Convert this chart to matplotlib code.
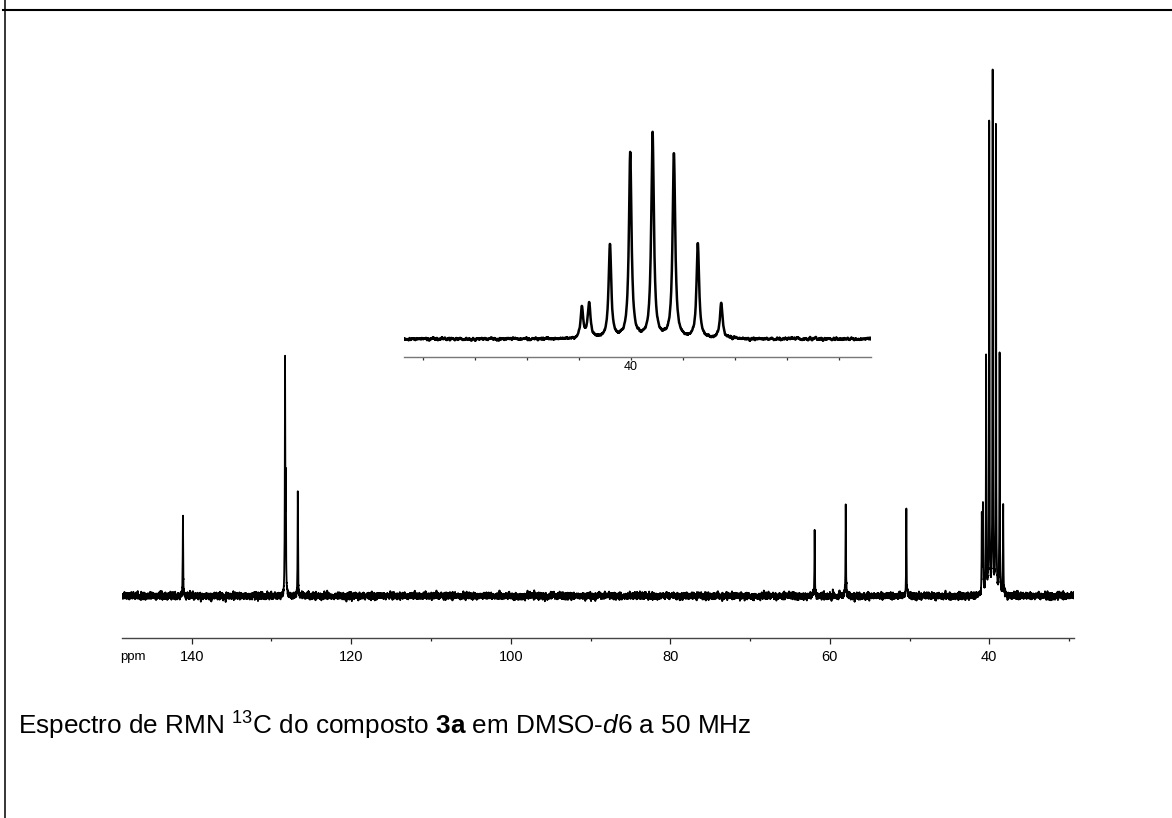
import numpy as np
import matplotlib
matplotlib.use("Agg")
import matplotlib.pyplot as plt
from matplotlib.lines import Line2D
from matplotlib.ticker import FixedLocator, FuncFormatter

# 13C peak list: chemical shift (ppm) and peak height (arbitrary units)
shifts = [141.1, 128.3, 128.2, 126.7, 61.9, 58.0, 50.4, 40.94]
heights = [82, 232, 110, 106, 66, 93, 88, 80]

# DMSO-d6 solvent septet
solvent_shifts = [40.80, 40.40, 40.01, 39.58, 39.17, 38.71, 38.26]
solvent_heights = [89, 240, 469, 521, 469, 240, 89]

major_ticks = [140, 120, 100, 80, 60, 40]
minor_ticks = [130, 110, 90, 70, 50, 30]
inset_ticks = [44, 43, 42, 41, 40, 39, 38, 37, 36]

caption = (r"Espectro de RMN $^{13}$C do composto $\mathbf{3a}$ em DMSO-$\mathit{d}$6 a 50 MHz")

plt.rcParams["mathtext.fontset"] = "custom"
plt.rcParams["mathtext.rm"] = "Liberation Sans"
plt.rcParams["mathtext.it"] = "Liberation Sans:italic"
plt.rcParams["mathtext.bf"] = "Liberation Sans:bold"
plt.rcParams["font.family"] = ["Liberation Sans", "DejaVu Sans"]

W, H = 1172, 818
fig = plt.figure(figsize=(W / 100, H / 100), dpi=100)
fig.patch.set_facecolor("white")

# Build the spectrum from Lorentzian lines
ppm = np.arange(148.8, 29.3, -0.003)
gamma = 0.03
spec = np.zeros_like(ppm)
for s, h in zip(shifts + solvent_shifts, heights + solvent_heights):
    spec += h * gamma**2 / (gamma**2 + (ppm - s) ** 2)

# baseline noise, lightly smoothed
rng = np.random.default_rng(3)
noise = rng.normal(0, 1, ppm.size)
kern = np.ones(7) / 7
noise = np.convolve(noise, kern, mode="same")
noise = noise / noise.std() * 1.5
spec_noisy = spec + noise


def fx(px):
    return px / W


def fy(py):
    return 1 - py / H


# main spectrum
ax = fig.add_axes([fx(122), fy(638), (1074 - 122) / W, (638 - 60) / H])
ax.plot(ppm, spec_noisy, color="black", lw=1.3)
ax.set_xlim(148.74, 29.38)
ax.set_ylim(-42, 536)
for side in ["top", "left", "right"]:
    ax.spines[side].set_visible(False)
ax.spines["bottom"].set_color("#444444")
ax.spines["bottom"].set_linewidth(1.0)
ax.set_yticks([])
ax.xaxis.set_major_locator(FixedLocator(major_ticks))
ax.xaxis.set_minor_locator(FixedLocator(minor_ticks))
ax.tick_params(axis="x", which="major", direction="out", length=4.3, width=0.9,
               pad=4, labelsize=10.5, color="#222222")
ax.tick_params(axis="x", which="minor", direction="out", length=2.2, width=0.9,
               color="#222222")
ax.patch.set_alpha(0)
fig.text(fx(133), fy(657), "ppm", ha="center", va="center", fontsize=9.5)

# expansion of the solvent region
axi = fig.add_axes([fx(404), fy(356.7), (871 - 404) / W, (356.7 - 120) / H])
axi.plot(ppm, spec_noisy, color="black", lw=1.8)
axi.set_xlim(44.36, 35.38)
axi.set_ylim(-45, 556.5)
for side in ["top", "left", "right"]:
    axi.spines[side].set_visible(False)
axi.spines["bottom"].set_color("#777777")
axi.spines["bottom"].set_linewidth(1.0)
axi.set_yticks([])
axi.xaxis.set_major_locator(FixedLocator(inset_ticks))
axi.xaxis.set_major_formatter(FuncFormatter(lambda v, p: "40" if abs(v - 40) < 0.01 else ""))
axi.tick_params(axis="x", which="major", direction="out", length=1.8, width=0.9,
                pad=1.0, labelsize=9, color="#333333")
axi.patch.set_alpha(0)

# page frame
fig.add_artist(Line2D([fx(3), 1.0], [fy(10), fy(10)], color="black", lw=1.5))
fig.add_artist(Line2D([fx(4.5), fx(4.5)], [0, 1], color="black", lw=1.1))

fig.text(fx(18), fy(735), caption, fontsize=18.8, va="baseline", ha="left")

fig.savefig("out.png", dpi=100, facecolor="white")
